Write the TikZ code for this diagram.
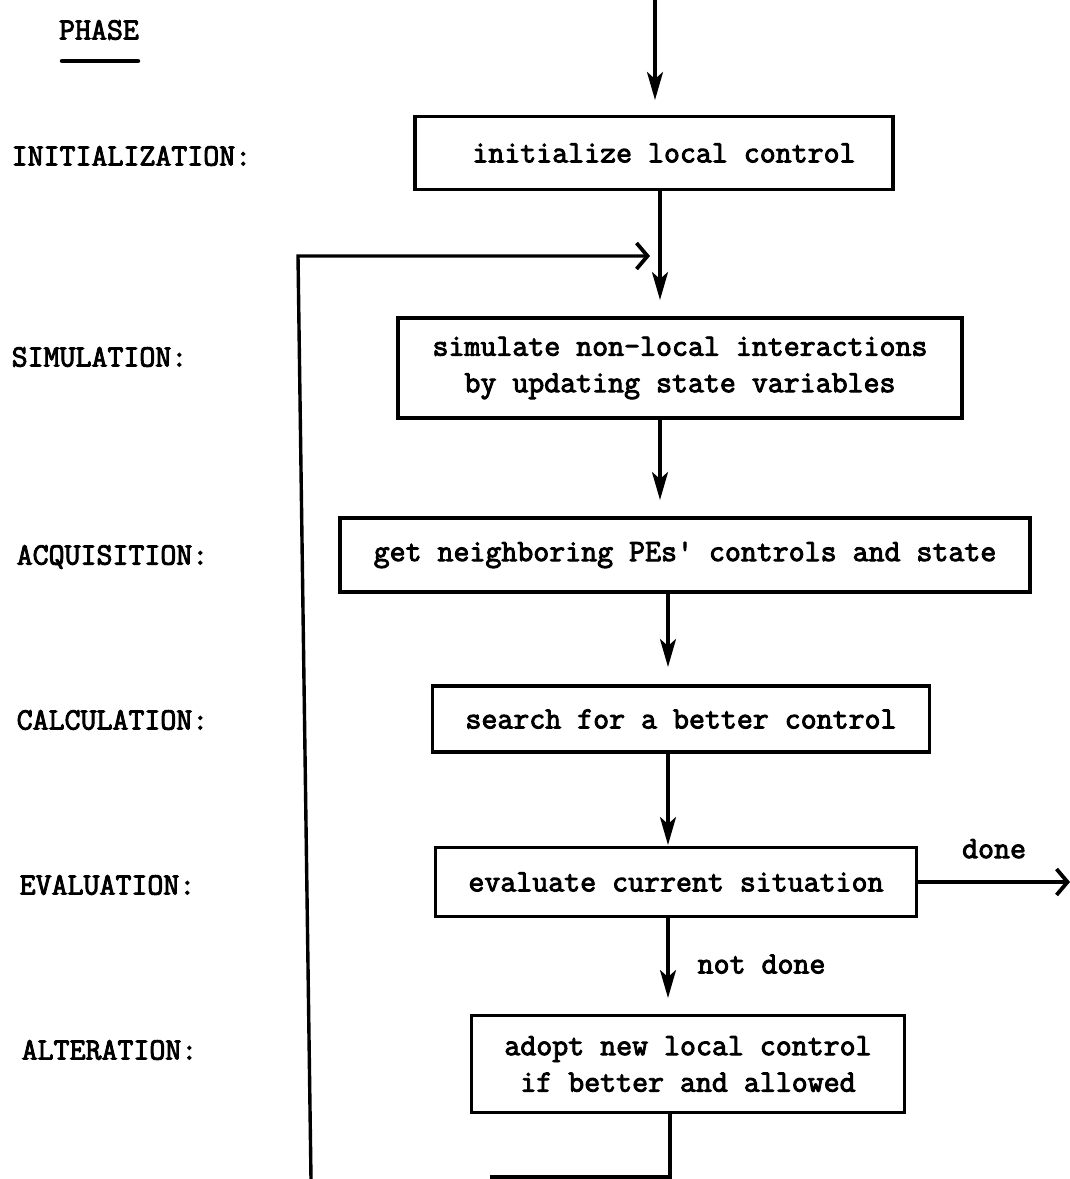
\documentclass[tikz,border=0pt]{standalone}
\usepackage{fontspec}
\setmonofont[FakeBold=3]{Latin Modern Mono}
\usetikzlibrary{arrows.meta}
\begin{document}
\begin{tikzpicture}[x=1pt,y=-1pt,line width=3.4pt,
  txt/.style={font=\ttfamily\fontsize{31}{36.5}\selectfont,inner sep=0pt},
  stage/.style={txt,draw,align=center,line width=3.2pt},
  phase/.style={txt,anchor=west},
  flow/.style={-{Stealth[length=28pt,width=16pt,inset=7pt]}},
  barb/.style={-{Straight Barb[length=11pt,width=26pt,line width=3.8pt]}}]
\useasboundingbox (0,0) rectangle (1070,1179);
% phase labels
\node[txt] (phase) at (99,30) {PHASE};
\draw[line width=4.5pt,line cap=round] (62,61) -- (138,61);
\node[phase] (pinit) at (10,156) {INITIALIZATION:};
\node[phase] (psim) at (10,357) {SIMULATION:};
\node[phase] (pacq) at (15,557) {ACQUISITION:};
\node[phase] (pcalc) at (15,720) {CALCULATION:};
\node[phase] (peval) at (18,885) {EVALUATION:};
\node[phase] (palt) at (20,1050) {ALTERATION:};
% boxes
\node[stage,minimum width=478pt,minimum height=73pt] (b1) at (654,153) {\hspace*{20pt}initialize local control};
\node[stage,minimum width=564pt,minimum height=100pt] (b2) at (680,368) {simulate non-local interactions\\by updating state variables};
\node[stage,minimum width=690pt,minimum height=74pt] (b3) at (685,555) {get neighboring PEs' controls and state};
\node[stage,minimum width=497pt,minimum height=66pt] (b4) at (681,719) {search for a better control};
\node[stage,minimum width=481pt,minimum height=69pt] (b5) at (676,882) {evaluate current situation};
\node[stage,minimum width=433pt,minimum height=97pt] (b6) at (688,1064) {adopt new local control\\if better and allowed};
% coordinates
\coordinate (top) at (655,0);
\coordinate (t1) at (655,100);
\coordinate (t2) at (660,300);
\coordinate (t3) at (660,500);
\coordinate (t4) at (668,667);
\coordinate (t5) at (668,845);
\coordinate (t6) at (668,998);
\coordinate (out) at (1070,882);
\coordinate (bl) at (670,1177);
\coordinate (bend) at (490,1177);
\coordinate (lb) at (311,1179);
\coordinate (lt) at (298,256);
\coordinate (lr) at (650,256);
% connectors
\draw[flow] (top) -- (t1);
\draw[flow] (b1.south -| t2) -- (t2);
\draw[flow] (b2.south -| t3) -- (t3);
\draw[flow] (b3.south -| t4) -- (t4);
\draw[flow] (b4.south -| t5) -- (t5);
\draw[flow] (b5.south -| t6) -- node[txt,anchor=west,xshift=28pt,yshift=-6pt] (nd) {not done} (t6);
\draw[barb] (b5.east |- out) -- node[txt,above=22pt] (dn) {done} (out);
\draw (b6.south -| bl) -- (bl) -- (bend);
\draw[barb] (lb) -- (lt) -- (lr);
\end{tikzpicture}
\end{document}
